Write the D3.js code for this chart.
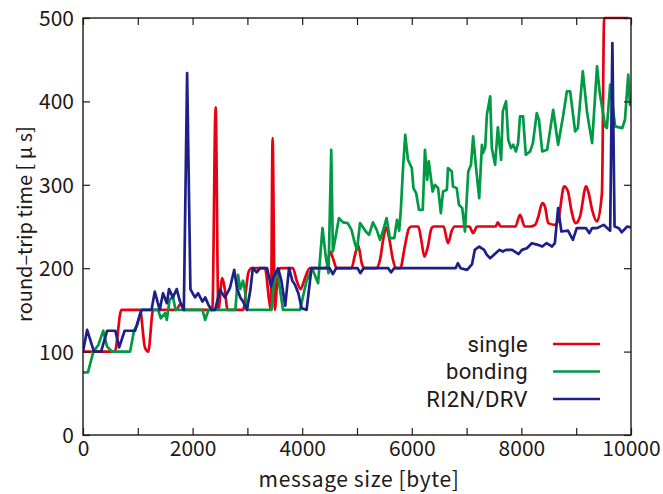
<!DOCTYPE html>
<html>
<head>
<meta charset="utf-8">
<script src="https://cdn.jsdelivr.net/npm/d3@7"></script>
<style>
  html, body { margin: 0; padding: 0; background: #fff; }
  svg text { font-family: "Noto Sans CJK JP", "Noto Sans", sans-serif; fill: #231815; }
  svg text.legend-label { font-family: Roboto, "Noto Sans", sans-serif; }
</style>
</head>
<body>
<svg id="chart" width="663" height="494"></svg>
<script>
// Round-trip time vs. message size, [size in bytes, time in µs]
const single = [
  [0,100],[580,100],[700,150],[1040,150],[1130,105],[1190,100],[1280,150],[1700,150],[1780,157],[1850,150],
  [2360,150],[2420,393],[2470,150],[2540,188],[2580,178],[2640,150],[2920,150],[3020,195],[3080,200],[3320,200],
  [3400,160],[3430,150],[3460,356],[3500,150],[3560,195],[3610,200],[3830,200],[3900,185],[3970,175],[4050,188],
  [4140,200],[4440,200],[4510,220],[4570,210],[4630,200],[4900,200],[4960,215],[5020,228],[5090,205],[5140,200],
  [5350,200],[5420,210],[5480,235],[5530,249],[5590,235],[5650,212],[5710,200],[5790,200],[5870,225],[5950,248],
  [6000,250],[6120,250],[6170,235],[6230,214],[6290,225],[6360,248],[6400,250],[6580,250],[6660,230],[6730,245],
  [6780,250],[7050,250],[7120,242],[7190,250],[7530,250],[7570,255],[7620,250],[7890,250],[7975,264],[8060,250],
  [8160,250],[8250,252],[8310,262],[8380,278],[8430,274],[8490,254],[8610,252],[8670,257],[8780,298],[8850,292],
  [8910,270],[8990,254],[9070,262],[9180,298],[9220,292],[9290,270],[9380,256],[9470,290],[9510,500],[9950,500]
];
const bonding = [
  [0,75],[90,75],[190,100],[280,108],[370,125],[440,106],[530,100],[860,100],[930,125],[990,132],
  [1060,150],[1370,150],[1420,140],[1500,146],[1530,138],[1580,162],[1640,166],[1690,150],[2180,150],[2230,138],
  [2290,150],[2780,150],[2830,192],[2870,175],[2920,185],[2950,175],[3000,150],[3440,150],[3500,194],[3560,190],
  [3650,150],[3960,150],[4080,185],[4180,200],[4290,182],[4370,248],[4430,214],[4480,194],[4530,342],[4560,220],
  [4600,234],[4670,260],[4745,255],[4830,254],[4900,246],[4960,230],[5000,222],[5055,254],[5100,250],[5160,244],
  [5220,240],[5290,255],[5360,246],[5420,234],[5475,245],[5540,260],[5600,236],[5680,236],[5730,258],[5770,245],
  [5800,270],[5840,320],[5880,360],[5930,330],[6000,320],[6030,296],[6080,290],[6130,270],[6200,270],[6240,342],
  [6280,306],[6310,328],[6380,292],[6420,300],[6480,296],[6530,266],[6570,292],[6640,294],[6660,320],[6730,316],
  [6750,298],[6820,296],[6860,276],[6920,272],[6970,244],[7030,316],[7080,324],[7120,358],[7170,322],[7230,284],
  [7280,348],[7300,338],[7340,345],[7370,384],[7430,406],[7460,344],[7520,324],[7570,369],[7630,330],[7660,388],
  [7720,400],[7760,354],[7810,344],[7850,348],[7900,340],[7940,350],[7975,382],[8030,382],[8080,336],[8160,340],
  [8210,350],[8280,386],[8320,378],[8380,340],[8470,342],[8580,390],[8670,348],[8760,382],[8830,412],[8890,412],
  [8980,364],[9030,368],[9120,436],[9200,386],[9290,350],[9380,442],[9430,410],[9530,370],[9560,368],[9620,420],
  [9710,370],[9840,368],[9890,378],[9950,432],[9980,396],[10000,395]
];
const ri2n = [
  [0,100],[75,126],[200,100],[330,100],[440,125],[590,125],[660,105],[760,125],[950,125],[1010,138],
  [1070,150],[1250,150],[1310,172],[1400,150],[1460,170],[1530,158],[1570,175],[1640,165],[1710,175],[1770,160],
  [1840,150],[1900,434],[1960,175],[2000,170],[2045,165],[2100,170],[2180,160],[2230,165],[2290,156],[2350,150],
  [2410,150],[2500,174],[2590,165],[2680,176],[2760,198],[2810,176],[2870,165],[2920,160],[2990,150],[3050,172],
  [3100,200],[3170,195],[3230,200],[3360,200],[3430,178],[3480,190],[3560,200],[3620,185],[3690,155],[3760,200],
  [3820,185],[3870,180],[3930,170],[3990,152],[4080,150],[4170,200],[4500,200],[4560,193],[4620,200],[5010,200],
  [5060,194],[5120,200],[5570,200],[5620,195],[5680,200],[6800,200],[6840,206],[6890,200],[7010,198],[7100,205],
  [7150,222],[7230,226],[7320,222],[7370,216],[7430,212],[7480,215],[7530,218],[7600,222],[7660,220],[7720,222],
  [7830,222],[7950,217],[8010,222],[8100,224],[8190,230],[8300,228],[8380,226],[8460,230],[8560,226],[8610,230],
  [8670,272],[8730,244],[8850,245],[8940,234],[9010,248],[9100,248],[9180,248],[9240,242],[9290,248],[9380,248],
  [9500,252],[9620,245],[9660,470],[9700,250],[9780,248],[9830,243],[9930,250],[10000,249]
];

const seriesNames = ["single", "bonding", "RI2N/DRV"];
const seriesColors = ["#e60012", "#009944", "#1d2088"];
const xTickLabels = [0, 2000, 4000, 6000, 8000, 10000];
const xTicks = d3.range(0, 10001, 1000);
const yTicks = [0, 100, 200, 300, 400, 500];

const svg = d3.select("#chart");
const plotLeft = 83, plotRight = 631, plotTop = 18, plotBottom = 435;

const x = d3.scaleLinear().domain([0, 10000]).range([plotLeft, plotRight]);
const y = d3.scaleLinear().domain([0, 500]).range([plotBottom, plotTop]);

svg.append("defs").append("clipPath").attr("id", "plotClip")
  .append("rect").attr("x", plotLeft).attr("y", plotTop - 3)
  .attr("width", plotRight - plotLeft).attr("height", plotBottom - plotTop + 3);

// lines: the single-link series is drawn smoothed, the others point to point
const smoothLine = d3.line().x(d => x(d[0])).y(d => y(d[1])).curve(d3.curveMonotoneX);
const straightLine = d3.line().x(d => x(d[0])).y(d => y(d[1]));
const lineGens = [smoothLine, straightLine, straightLine];

const plot = svg.append("g").attr("clip-path", "url(#plotClip)");
[single, bonding, ri2n].forEach((data, i) => {
  plot.append("path")
    .datum(data)
    .attr("d", lineGens[i])
    .attr("fill", "none")
    .attr("stroke", seriesColors[i])
    .attr("stroke-width", 2.7)
    .attr("stroke-linejoin", "round");
});

// frame and inward ticks on all four sides
const tickLen = 7;
const axisColor = "#231815";

const gLeft = svg.append("g").attr("transform", `translate(${plotLeft},0)`)
  .call(d3.axisLeft(y).tickValues(yTicks).tickSize(-tickLen).tickPadding(9));
const gRight = svg.append("g").attr("transform", `translate(${plotRight},0)`)
  .call(d3.axisRight(y).tickValues(yTicks).tickSize(-tickLen).tickFormat(""));
const gBottom = svg.append("g").attr("transform", `translate(0,${plotBottom})`)
  .call(d3.axisBottom(x).tickValues(xTicks).tickSize(-tickLen).tickPadding(6)
    .tickFormat(d => xTickLabels.includes(d) ? d : ""));
const gTop = svg.append("g").attr("transform", `translate(0,${plotTop})`)
  .call(d3.axisTop(x).tickValues(xTicks).tickSize(-tickLen).tickFormat(""));

[gLeft, gRight, gBottom, gTop].forEach(g => {
  g.select(".domain").remove();
  g.selectAll(".tick line").attr("stroke", axisColor).attr("stroke-width", 1.2);
  g.selectAll(".tick text").attr("font-size", 21).attr("font-family", null).attr("fill", axisColor);
});
gLeft.selectAll(".tick text").attr("dy", "0.36em");
gBottom.selectAll(".tick text").attr("dy", "0.72em");

svg.append("rect")
  .attr("x", plotLeft).attr("y", plotTop)
  .attr("width", plotRight - plotLeft).attr("height", plotBottom - plotTop)
  .attr("fill", "none").attr("stroke", axisColor).attr("stroke-width", 1.4);

// axis titles
svg.append("text")
  .attr("x", 359).attr("y", 487)
  .attr("text-anchor", "middle").attr("font-size", 21)
  .attr("letter-spacing", 0.6)
  .text("message size [byte]");

svg.append("text")
  .attr("transform", `translate(32,224) rotate(-90)`)
  .attr("text-anchor", "middle").attr("font-size", 20)
  .text("round–trip time [ μ s]");

// legend
const legend = svg.append("g");
seriesNames.forEach((name, i) => {
  const ly = 344 + i * 27.5;
  legend.append("text")
    .attr("class", "legend-label")
    .attr("x", 528).attr("y", ly).attr("dy", "0.36em")
    .attr("text-anchor", "end").attr("font-size", 22)
    .attr("letter-spacing", 0.4)
    .text(name);
  legend.append("line")
    .attr("x1", 553).attr("x2", 600)
    .attr("y1", ly).attr("y2", ly)
    .attr("stroke", seriesColors[i]).attr("stroke-width", 2.7);
});
</script>
</body>
</html>
